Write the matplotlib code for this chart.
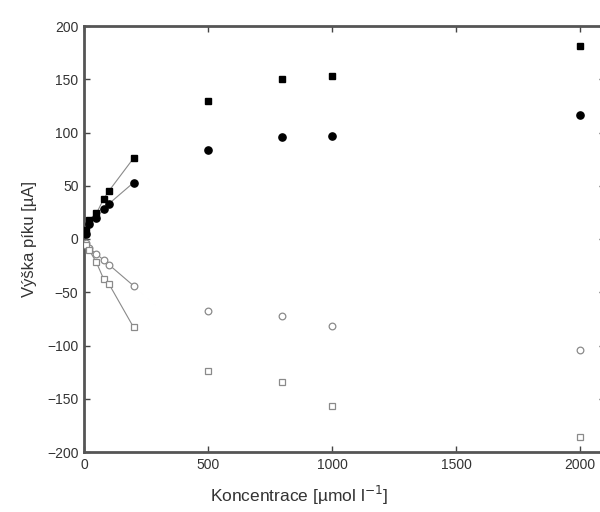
import matplotlib
matplotlib.use("Agg")
import matplotlib.pyplot as plt

plt.rcParams['font.family'] = ['Liberation Sans', 'DejaVu Sans']

# Concentrations (umol/l)
conc = [10, 20, 50, 80, 100, 200, 500, 800, 1000, 2000]

# Peak heights (uA)
sq_filled = [8, 18, 24, 38, 45, 76, 130, 150, 153, 181]
ci_filled = [5, 14, 20, 28, 33, 53, 84, 96, 97, 116]
ci_open = [-4, -8, -14, -20, -24, -44, -68, -72, -82, -104]
sq_open = [-6, -10, -22, -38, -42, -83, -124, -134, -157, -186]

n_fit = 6  # points joined by lines in the low-concentration range

xticks = [0, 500, 1000, 1500, 2000]
yticks = [-200, -150, -100, -50, 0, 50, 100, 150, 200]

fig = plt.figure(figsize=(6.0, 5.12), dpi=100)
W, H = 600, 512
left, right, top, bottom = 84, 605, 26, 452
ax = fig.add_axes([left / W, 1 - bottom / H, (right - left) / W, (bottom - top) / H])

line_kw = dict(color='#8a8a8a', lw=0.8, zorder=1)
ax.plot(conc[:n_fit], sq_filled[:n_fit], **line_kw)
ax.plot(conc[:n_fit], ci_filled[:n_fit], **line_kw)
ax.plot(conc[:n_fit], ci_open[:n_fit], **line_kw)
ax.plot(conc[:n_fit], sq_open[:n_fit], **line_kw)

ax.plot(conc, sq_filled, ls='none', marker='s', ms=4.8, mfc='black', mec='black', zorder=3)
ax.plot(conc, ci_filled, ls='none', marker='o', ms=5.2, mfc='black', mec='black', zorder=3)
ax.plot(conc, ci_open, ls='none', marker='o', ms=4.8, mfc='white', mec='#8a8a8a', mew=0.9, zorder=3)
ax.plot(conc, sq_open, ls='none', marker='s', ms=4.4, mfc='white', mec='#8a8a8a', mew=0.9, zorder=3)

ax.set_xlim(0, 2100)
ax.set_ylim(-200, 200)
ax.set_xticks(xticks)
ax.set_yticks(yticks)
ax.tick_params(direction='in', length=4, width=1.0, color='#444444',
               top=True, right=True, labelsize=10, labelcolor='#333333', pad=4)
for s in ax.spines.values():
    s.set_linewidth(2.0)
    s.set_color('#555555')

ax.set_xlabel('Koncentrace [µmol l$^{-1}$]', fontsize=12.5, color='#333333')
ax.xaxis.set_label_coords((299 - left) / (right - left), -0.075)
ax.set_ylabel('Výška píku [µA]', fontsize=12, color='#333333')
ax.yaxis.set_label_coords(-0.09, 0.5)

fig.savefig('out.png', dpi=100)
